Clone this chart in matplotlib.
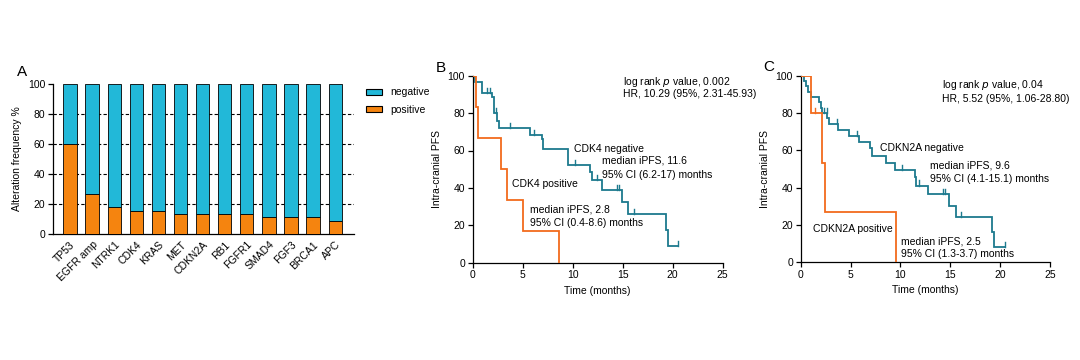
import numpy as np
import matplotlib
matplotlib.use("Agg")
import matplotlib.pyplot as plt
from matplotlib.patches import Patch

plt.rcParams['font.family'] = ['Liberation Sans', 'DejaVu Sans']
plt.rcParams['font.size'] = 7.5
plt.rcParams['axes.linewidth'] = 0.9

# ---------------- Data ----------------
genes = ["TP53", "EGFR amp", "NTRK1", "CDK4", "KRAS", "MET", "CDKN2A", "RB1",
         "FGFR1", "SMAD4", "FGF3", "BRCA1", "APC"]
positive = [60.0, 26.7, 17.8, 15.6, 15.6, 13.3, 13.3, 13.3, 13.3, 11.1, 11.1, 11.1, 8.9]
negative = [100 - v for v in positive]

# Panel B: CDK4
b_neg_times = [0.25, 0.95, 1.97, 2.17, 2.47, 2.67, 5.73, 6.9, 7.07, 9.55, 11.7, 11.95, 12.9, 14.9, 15.5, 19.3, 19.5]
b_neg_surv = [96.6, 90.8, 88.5, 80.0, 75.8, 72.0, 68.2, 66.0, 60.8, 52.2, 48.7, 44.0, 38.9, 32.6, 26.0, 17.4, 8.7]
b_neg_cens = [1.45, 1.75, 2.35, 3.7, 6.1, 10.2, 12.4, 14.4, 14.6, 16.1, 20.5]
b_pos_times = [0.3, 0.5, 2.8, 3.45, 5.0, 8.6]
b_pos_surv = [83.3, 66.7, 50.0, 33.3, 16.7, 0.0]
b_pos_cens = []

# Panel C: CDKN2A
c_neg_times = [0.33, 0.53, 0.7, 1.0, 1.83, 2.0, 2.1, 2.66, 2.86, 3.76, 4.86, 5.86, 6.93, 7.1,
               8.53, 9.43, 11.43, 11.6, 12.77, 14.87, 15.53, 19.2, 19.4]
c_neg_surv = [97.3, 94.3, 91.4, 88.6, 85.7, 82.9, 80.0, 77.1, 74.1, 71.0, 67.7, 64.5, 61.0, 56.8,
              53.0, 49.6, 45.6, 41.1, 36.5, 30.4, 24.4, 16.3, 8.1]
c_neg_cens = [2.3, 2.6, 3.6, 5.66, 10.17, 11.9, 14.3, 14.5, 16.1, 20.5]
c_pos_times = [1.0, 2.1, 2.45, 9.6]
c_pos_surv = [80.0, 53.3, 26.7, 0.0]
c_pos_cens = [1.45]

CYAN = "#22B8D8"
ORANGE_BAR = "#F5840F"
TEAL = "#1D7A8E"
ORANGE = "#F26B1D"

fig = plt.figure(figsize=(10.8, 3.6), dpi=100)

# ---------------- Panel A ----------------
axA = fig.add_axes([53/1080, 1-234/360, (354-53)/1080, (234-84)/360])
x = np.arange(len(genes))
axA.bar(x, positive, width=0.6, color=ORANGE_BAR, edgecolor="black", linewidth=0.6, zorder=3)
axA.bar(x, negative, bottom=positive, width=0.6, color=CYAN, edgecolor="black", linewidth=0.6, zorder=3)
axA.set_xlim(-0.77, 12.85)
axA.set_ylim(0, 100)
axA.set_yticks([0, 20, 40, 60, 80, 100])
for yv in [20, 40, 60, 80]:
    axA.axhline(yv, color="black", linestyle=(0, (3, 2)), linewidth=0.8, zorder=1)
axA.set_xticks(x)
axA.set_xticklabels(genes, rotation=45, ha="right", rotation_mode="anchor")
axA.tick_params(axis="x", length=0, pad=4)
axA.tick_params(axis="y", length=3.5, width=0.9, pad=2)
axA.spines["top"].set_visible(False)
axA.spines["right"].set_visible(False)
axA.set_ylabel("Alteration frequency %", labelpad=4)
fig.text(22/1080, 1-72/360, "A", fontsize=11, ha="center", va="center")
handles = [Patch(facecolor=CYAN, edgecolor="black", linewidth=0.8, label="negative"),
           Patch(facecolor=ORANGE_BAR, edgecolor="black", linewidth=0.8, label="positive")]
fig.legend(handles=handles, loc="upper left", bbox_to_anchor=(357/1080, 1-78/360), frameon=False,
           handlelength=1.5, handleheight=0.5, handletextpad=0.8, labelspacing=0.7, fontsize=7.5)


def km(ax, times, surv, cens, color, end=None):
    xs = [0.0] + list(times)
    ys = [100.0] + list(surv)
    if end is not None and end > xs[-1]:
        xs.append(end)
        ys.append(ys[-1])
    ax.step(xs, ys, where="post", color=color, linewidth=1.3, solid_joinstyle="miter", zorder=3)
    for c in cens:
        idx = np.searchsorted(np.array(xs), c, side="right") - 1
        lvl = ys[idx]
        ax.plot([c, c], [lvl, lvl + 2.8], color=color, linewidth=1.0, zorder=3)


def style_km(ax):
    ax.set_xlim(0, 25)
    ax.set_ylim(0, 100)
    ax.set_xticks([0, 5, 10, 15, 20, 25])
    ax.set_yticks([0, 20, 40, 60, 80, 100])
    ax.spines["top"].set_visible(False)
    ax.spines["right"].set_visible(False)
    ax.tick_params(length=3.5, width=0.9, pad=2)
    ax.set_xlabel("Time (months)", labelpad=4)
    ax.set_ylabel("Intra-cranial PFS", labelpad=4)


# ---------------- Panel B ----------------
axB = fig.add_axes([472.7/1080, 1-262.7/360, 250/1080, (262.7-75.7)/360])
km(axB, b_neg_times, b_neg_surv, b_neg_cens, TEAL, end=max(b_neg_cens))
km(axB, b_pos_times, b_pos_surv, b_pos_cens, ORANGE)
style_km(axB)
axB.text(15.06, 96.5, "log rank $p$ value, 0.002", va="center")
axB.text(15.06, 90.1, "HR, 10.29 (95%, 2.31-45.93)", va="center")
axB.text(10.16, 61.0, "CDK4 negative", va="center")
axB.text(12.9, 54.5, "median iPFS, 11.6", va="center")
axB.text(12.9, 46.9, "95% CI (6.2-17) months", va="center")
axB.text(3.96, 41.9, "CDK4 positive", va="center")
axB.text(5.73, 28.7, "median iPFS, 2.8", va="center")
axB.text(5.73, 21.1, "95% CI (0.4-8.6) months", va="center")
fig.text(440.7/1080, 1-68.3/360, "B", fontsize=11, ha="center", va="center")

# ---------------- Panel C ----------------
axC = fig.add_axes([800.7/1080, 1-262.3/360, 249.3/1080, (262.3-75.7)/360])
km(axC, c_neg_times, c_neg_surv, c_neg_cens, TEAL, end=max(c_neg_cens))
km(axC, c_pos_times, c_pos_surv, c_pos_cens, ORANGE)
style_km(axC)
axC.text(14.2, 95.0, "log rank $p$ value, 0.04", va="center")
axC.text(14.2, 87.5, "HR, 5.52 (95%, 1.06-28.80)", va="center")
axC.text(7.93, 61.4, "CDKN2A negative", va="center")
axC.text(13.0, 52.0, "median iPFS, 9.6", va="center")
axC.text(13.0, 44.8, "95% CI (4.1-15.1) months", va="center")
axC.text(1.2, 17.9, "CDKN2A positive", va="center")
axC.text(10.1, 11.4, "median iPFS, 2.5", va="center")
axC.text(10.1, 4.6, "95% CI (1.3-3.7) months", va="center")
fig.text(768.3/1080, 1-66.7/360, "C", fontsize=11, ha="center", va="center")

fig.savefig("out.png", dpi=100)
